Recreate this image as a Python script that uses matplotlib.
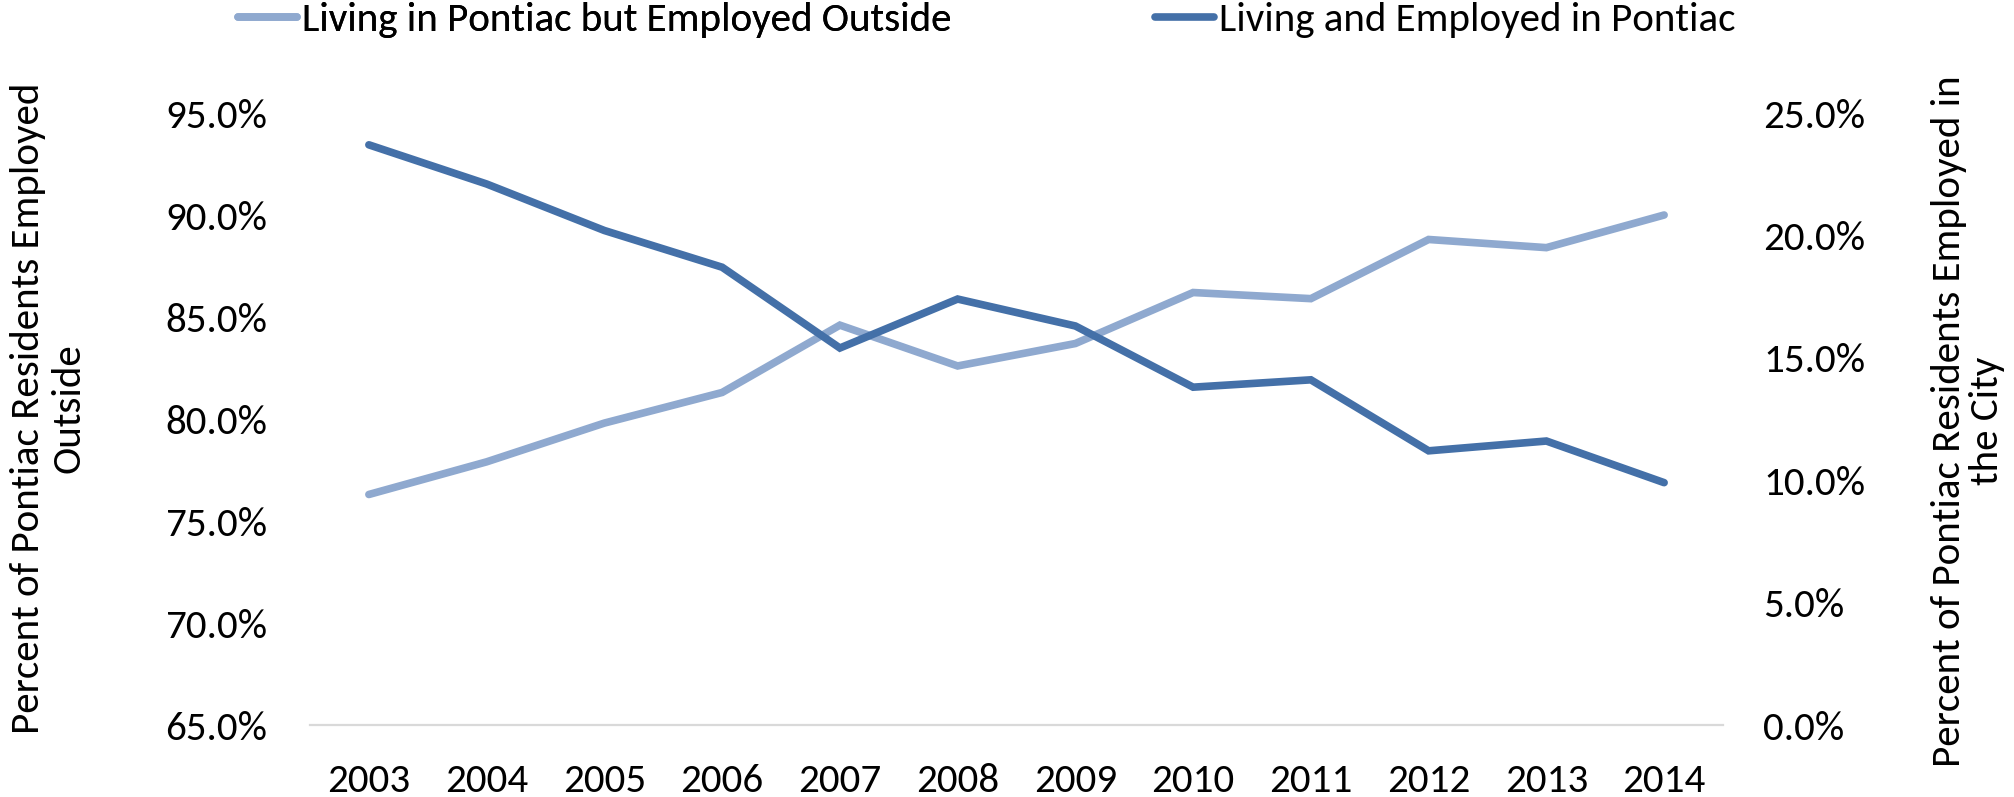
import matplotlib
matplotlib.use("Agg")
import matplotlib.pyplot as plt
from matplotlib.lines import Line2D
from matplotlib.ticker import FuncFormatter, MultipleLocator

years = ["2003", "2004", "2005", "2006", "2007", "2008", "2009", "2010", "2011", "2012", "2013", "2014"]
outside = [76.3, 77.9, 79.8, 81.3, 84.6, 82.6, 83.7, 86.2, 85.9, 88.8, 88.4, 90.0]
inside = [23.7, 22.1, 20.2, 18.7, 15.4, 17.4, 16.3, 13.8, 14.1, 11.2, 11.6, 9.9]

label_outside = "Living in Pontiac but Employed Outside"
label_inside = "Living and Employed in Pontiac"
left_title = "Percent of Pontiac Residents Employed\nOutside"
right_title = "Percent of Pontiac Residents Employed in\nthe City"

c_light = "#8FA9CF"
c_dark = "#4470A8"

plt.rcParams["font.family"] = ["Carlito", "Lato", "DejaVu Sans"]
FS = 29.5

fig = plt.figure(figsize=(20.15, 7.97), dpi=100)
ax = fig.add_axes([310 / 2015, 1 - 725 / 797, (1723 - 310) / 2015, (725 - 113) / 797])
ax2 = ax.twinx()

x = list(range(len(years)))
ax.plot(x, outside, color=c_light, lw=5.5, solid_capstyle="round", solid_joinstyle="miter", zorder=3)
ax2.plot(x, inside, color=c_dark, lw=5.5, solid_capstyle="round", solid_joinstyle="miter", zorder=3)

ax.set_xlim(-0.5, len(years) - 0.5)
ax.set_ylim(65, 95)
ax2.set_ylim(0, 25)
ax.yaxis.set_major_locator(MultipleLocator(5))
ax2.yaxis.set_major_locator(MultipleLocator(5))
fmt = FuncFormatter(lambda v, p: f"{v:.1f}%")
ax.yaxis.set_major_formatter(fmt)
ax2.yaxis.set_major_formatter(fmt)
ax.set_xticks(x)
ax.set_xticklabels(years)

for a in (ax, ax2):
    for s in a.spines.values():
        s.set_visible(False)
    a.tick_params(length=0, labelsize=FS, colors="black")
ax.tick_params(axis="y", pad=31)
ax2.tick_params(axis="y", pad=29)
ax.tick_params(axis="x", pad=27)
ax.axhline(65, color="#D9D9D9", lw=1.6, zorder=1, clip_on=False)

fig.text(48 / 2015, 0.488, left_title, rotation=90, ha="center", va="center",
         fontsize=FS, multialignment="center", linespacing=1.15)
fig.text(1968 / 2015, 0.472, right_title, rotation=90, ha="center", va="center",
         fontsize=FS, multialignment="center", linespacing=1.05)

h1 = Line2D([], [], color=c_light, lw=5.5, solid_capstyle="round")
h2 = Line2D([], [], color=c_dark, lw=5.5, solid_capstyle="round")
common = dict(frameon=False, fontsize=FS, handlelength=1.45, handletextpad=0.1,
              borderpad=0, borderaxespad=0, loc="center left")
leg1 = fig.legend([h1], [label_outside], bbox_to_anchor=(238 / 2015, 0.975), **common)
fig.add_artist(leg1)
leg2 = fig.legend([h2], [label_inside], bbox_to_anchor=(1155 / 2015, 0.975), **common)

fig.savefig("out.png", dpi=100)
